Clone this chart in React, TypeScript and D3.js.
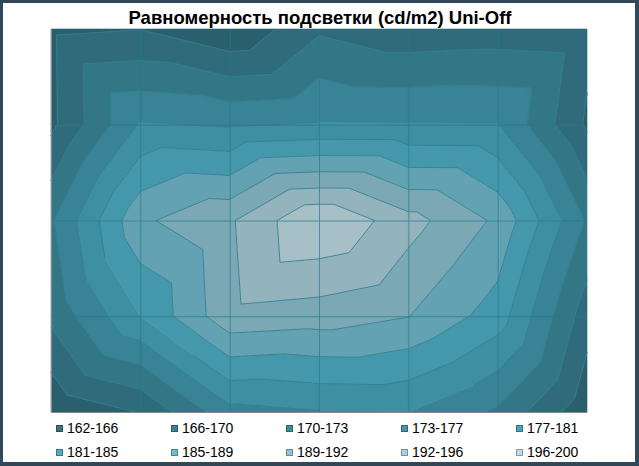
import React from 'react';
import * as d3 from 'd3';

// ---- data (cd/m2 measured on a 7 x 5 grid, top row first) ----
const columns = [1, 2, 3, 4, 5, 6, 7];
const rowIds = [1, 2, 3, 4, 5];
const row1 = [165.0, 165.7, 162.4, 169.0, 167.0, 167.5, 167.0];
const row2 = [164.9, 177.6, 176.8, 177.6, 177.5, 177.4, 165.2];
const row3 = [172.9, 187.9, 191.9, 200.0, 193.9, 187.9, 173.0];
const row4 = [170.5, 181.0, 191.3, 190.5, 188.7, 183.0, 167.5];
const row5 = [162.5, 166.0, 176.0, 177.0, 177.2, 172.8, 163.0];
const grid = [row1, row2, row3, row4, row5];

const bandEdges = [162, 165.8, 169.6, 173.4, 177.2, 181, 184.8, 188.6, 192.4, 196.2, 200];
const bandLabels = ['162-166', '166-170', '170-173', '173-177', '177-181', '181-185', '185-189', '189-192', '192-196', '196-200'];
const bandFills = ['#2a5f6d', '#2f6b7b', '#337787', '#388395', '#3d8fa1', '#4598ab', '#62a2b2', '#7ba8b5', '#93b3bd', '#a7bfc7'];
const legendFills = ['#3a7282', '#3d8294', '#3f8a9d', '#4396ab', '#47a3ba', '#4eadc5', '#70bace', '#92c5d4', '#aed1dc', '#c2dce4'];
const title = 'Равномерность подсветки (cd/m2) Uni-Off';

const W = 639;
const H = 466;
const plot = { left: 51, right: 587, top: 29, bottom: 412 };

type P = { x: number; y: number; v: number };

function clip(poly: P[], t: number, keepAbove: boolean): P[] {
  const out: P[] = [];
  for (let i = 0; i < poly.length; i++) {
    const a = poly[i];
    const b = poly[(i + 1) % poly.length];
    const ina = keepAbove ? a.v >= t : a.v <= t;
    const inb = keepAbove ? b.v >= t : b.v <= t;
    if (ina) out.push(a);
    if (ina !== inb) {
      const f = (t - a.v) / (b.v - a.v);
      out.push({ x: a.x + f * (b.x - a.x), y: a.y + f * (b.y - a.y), v: t });
    }
  }
  return out;
}

function isoSegment(tri: P[], t: number): [number, number][] | null {
  const pts: [number, number][] = [];
  for (let i = 0; i < 3; i++) {
    const a = tri[i];
    const b = tri[(i + 1) % 3];
    if ((a.v - t) * (b.v - t) < 0) {
      const f = (t - a.v) / (b.v - a.v);
      pts.push([a.x + f * (b.x - a.x), a.y + f * (b.y - a.y)]);
    }
  }
  return pts.length === 2 ? pts : null;
}

export default function App() {
  const x = d3.scaleLinear().domain([0, columns.length - 1]).range([plot.left, plot.right]);
  const y = d3.scaleLinear().domain([0, rowIds.length - 1]).range([plot.top, plot.bottom]);
  const line = d3.line<[number, number]>().x((d) => d[0]).y((d) => d[1]);

  const nC = columns.length;
  const nR = rowIds.length;
  const midC = (nC - 1) / 2;
  const midR = (nR - 1) / 2;
  const pt = (i: number, j: number): P => ({ x: x(i), y: y(j), v: grid[j][i] });

  const tris: P[][] = [];
  for (let j = 0; j < nR - 1; j++) {
    for (let i = 0; i < nC - 1; i++) {
      const tl = pt(i, j), tr = pt(i + 1, j), bl = pt(i, j + 1), br = pt(i + 1, j + 1);
      const diagMain = (i < midC) === (j < midR);
      if (diagMain) {
        tris.push([tl, tr, br]);
        tris.push([tl, br, bl]);
      } else {
        tris.push([tl, tr, bl]);
        tris.push([tr, br, bl]);
      }
    }
  }

  const bandPaths = bandFills.map((_, b) => {
    const lo = bandEdges[b];
    const hi = bandEdges[b + 1];
    let d = '';
    tris.forEach((tri) => {
      let poly = tri.slice();
      if (b > 0) poly = clip(poly, lo, true);
      if (poly.length >= 3 && b < bandFills.length - 1) poly = clip(poly, hi, false);
      if (poly.length >= 3) d += line(poly.map((p) => [p.x, p.y] as [number, number])) + 'Z';
    });
    return d;
  });

  let isoD = '';
  bandEdges.slice(1, -1).forEach((t) => {
    tris.forEach((tri) => {
      const s = isoSegment(tri, t);
      if (s) isoD += line(s);
    });
  });

  const legendX = (k: number) => 56 + (k % 5) * 115;
  const legendY = (k: number) => (k < 5 ? 425 : 449);

  return (
    <div style={{ position: 'absolute', left: 0, top: 0 }}>
      <svg width={W} height={H} style={{ display: 'block' }} fontFamily="'Liberation Sans', Arial, sans-serif">
        <rect x={0} y={0} width={W} height={H} fill="#31475a" />
        <rect x={3} y={3} width={632} height={459} fill="#ffffff" />
        <text x={320} y={24} textAnchor="middle" fontSize={18.5} fontWeight="bold" fill="#000">
          {title}
        </text>
        <g>
          {bandPaths.map((d, b) => (
            <path key={b} d={d} fill={bandFills[b]} stroke={bandFills[b]} strokeWidth={0.6} strokeLinejoin="round" />
          ))}
          <path d={isoD} fill="none" stroke="#2f7c8e" strokeWidth={1} strokeOpacity={0.85} />
          {columns.slice(1, -1).map((_, i) => (
            <line key={'vx' + i} x1={x(i + 1) + 0.5} x2={x(i + 1) + 0.5} y1={plot.top} y2={plot.bottom} stroke="#2a7a8c" strokeOpacity={0.7} />
          ))}
          {rowIds.slice(1, -1).map((_, j) => (
            <line key={'hy' + j} x1={plot.left} x2={plot.right} y1={y(j + 1) + 0.5} y2={y(j + 1) + 0.5} stroke="#2a7a8c" strokeOpacity={0.7} />
          ))}
          <line x1={plot.left + 0.5} x2={plot.left + 0.5} y1={plot.top} y2={plot.bottom + 0.5} stroke="#8a8a8a" />
          <line x1={plot.left} x2={plot.right} y1={plot.bottom + 0.5} y2={plot.bottom + 0.5} stroke="#8a8a8a" />
        </g>
        <g>
          {bandLabels.map((lab, k) => (
            <g key={lab}>
              <rect x={legendX(k) + 0.5} y={legendY(k) + 0.5} width={6} height={6} fill={legendFills[k]} stroke={d3.color(legendFills[k])!.darker(1).formatHex()} />
              <text x={legendX(k) + 11} y={legendY(k) + 8} fontSize={14} fill="#000">
                {lab}
              </text>
            </g>
          ))}
        </g>
      </svg>
    </div>
  );
}
